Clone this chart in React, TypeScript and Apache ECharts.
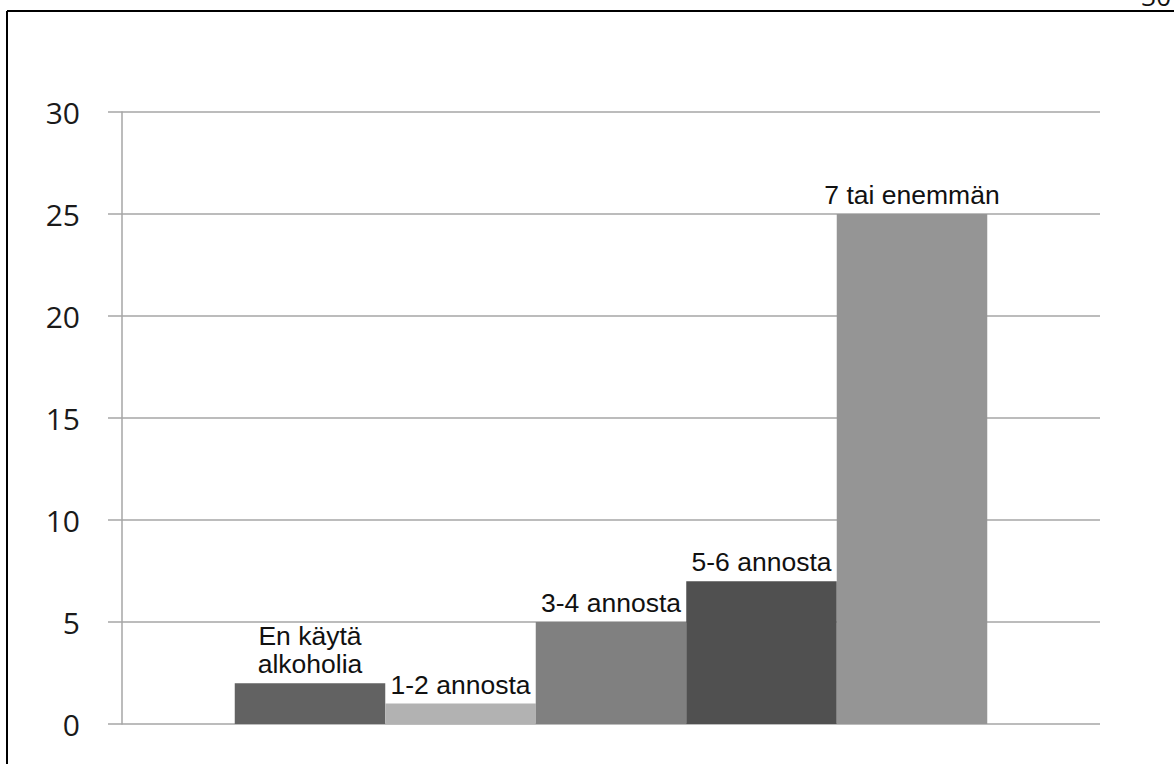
import React, { useEffect, useRef } from "react";
import * as echarts from "echarts";

const categories = [""];
const seriesNames = ["En käytä\nalkoholia", "1-2 annosta", "3-4 annosta", "5-6 annosta", "7 tai enemmän"];
const seriesValues = [2, 1, 5, 7, 25];
const seriesColors = ["#626262", "#b2b2b2", "#808080", "#505050", "#959595"];
const yTicks = { min: 0, max: 30, interval: 5 };
const pageNumber = "30";

export default function App() {
  const ref = useRef<HTMLDivElement>(null);
  useEffect(() => {
    if (!ref.current) return;
    const chart = echarts.init(ref.current, null, { renderer: "svg" });
    const grid = "#a6a6a6";
    chart.setOption({
      animation: false,
      backgroundColor: "#ffffff",
      grid: { left: 122, right: 74, top: 112, bottom: 40 },
      xAxis: {
        type: "category",
        data: categories,
        axisLine: { show: false },
        axisTick: { show: false },
        axisLabel: { show: false },
      },
      yAxis: {
        type: "value",
        min: yTicks.min,
        max: yTicks.max,
        interval: yTicks.interval,
        axisLine: { show: true, lineStyle: { color: grid, width: 1.5 } },
        axisTick: { show: true, length: 14, lineStyle: { color: grid, width: 1.5 } },
        splitLine: { show: true, lineStyle: { color: grid, width: 1.5 } },
        axisLabel: {
          margin: 42,
          fontFamily: "Open Sans",
          fontSize: 30,
          color: "#1a1a1a",
        },
      },
      series: seriesNames.map((name, i) => ({
        type: "bar",
        name,
        data: [seriesValues[i]],
        barWidth: 150.5,
        barGap: "0%",
        itemStyle: { color: seriesColors[i] },
        label: {
          show: true,
          position: "top",
          distance: 5,
          formatter: name,
          fontFamily: "Liberation Sans, Arial, sans-serif",
          fontSize: 26.5,
          lineHeight: 28,
          color: "#111111",
        },
      })),
      graphic: [
        {
          type: "line",
          shape: { x1: 7, y1: 11, x2: 1174, y2: 11 },
          style: { stroke: "#000000", lineWidth: 2 },
        },
        {
          type: "line",
          shape: { x1: 7, y1: 11, x2: 7, y2: 764 },
          style: { stroke: "#000000", lineWidth: 2 },
        },
        {
          type: "text",
          x: 1171,
          y: 9,
          style: {
            text: pageNumber,
            fontFamily: "Open Sans",
            fontSize: 26,
            fill: "#111111",
            align: "right",
            verticalAlign: "bottom",
          },
        },
      ],
    });
    return () => chart.dispose();
  }, []);
  return (
    <div
      ref={ref}
      style={{ position: "absolute", left: 0, top: 0, width: 1174, height: 764, background: "#fff" }}
    />
  );
}
